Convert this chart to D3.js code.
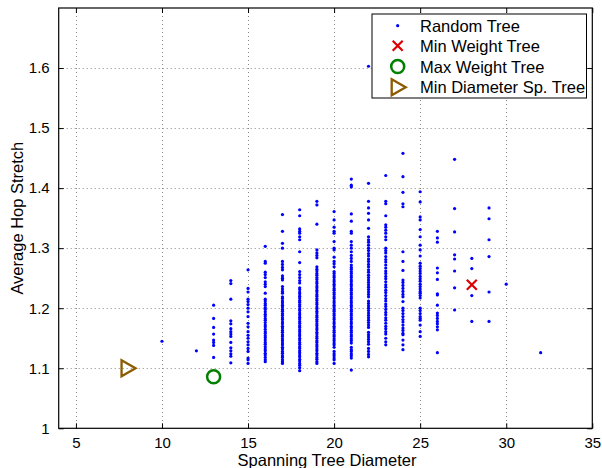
<!DOCTYPE html>
<html>
<head>
<meta charset="utf-8">
<script src="https://cdn.jsdelivr.net/npm/d3@7"></script>
<style>
body { margin: 0; background: #fff; }
text { font-family: "Liberation Sans", Arial, Helvetica, sans-serif; }
</style>
</head>
<body>
<svg id="chart" width="602" height="468"></svg>
<script>
// diameters of the random trees, and the hop stretch of each tree per diameter
var randomDiam = [10, 12, 13, 14, 15, 16, 17, 18, 19, 20, 21, 22, 23, 24, 25, 26, 27, 28, 29, 30, 32];
var randomStretch = [
  [1.145],
  [1.129],
  [1.205, 1.183, 1.168, 1.157, 1.147, 1.143, 1.138, 1.118],
  [1.246, 1.241, 1.215, 1.179, 1.174, 1.166, 1.161, 1.157, 1.153, 1.143, 1.134, 1.129, 1.124, 1.120, 1.109],
  [1.264, 1.233, 1.227, 1.215, 1.211, 1.206, 1.200, 1.194, 1.186, 1.175, 1.169, 1.161, 1.155, 1.150, 1.144, 1.139, 1.133, 1.128, 1.117, 1.114, 1.108],
  [1.303, 1.278, 1.275, 1.260, 1.256, 1.251, 1.244, 1.240, 1.236, 1.225, 1.215, 1.212, 1.208, 1.205, 1.201, 1.198, 1.194, 1.190, 1.187, 1.183,
   1.180, 1.176, 1.172, 1.169, 1.165, 1.161, 1.158, 1.154, 1.151, 1.147, 1.143, 1.140, 1.136, 1.132, 1.129, 1.125, 1.122, 1.118, 1.114, 1.111],
  [1.356, 1.328, 1.308, 1.300, 1.278, 1.273, 1.268, 1.264, 1.254, 1.250, 1.247, 1.236, 1.232, 1.228, 1.225, 1.219, 1.216, 1.212, 1.209, 1.205,
   1.202, 1.198, 1.195, 1.191, 1.188, 1.184, 1.181, 1.177, 1.174, 1.170, 1.167, 1.163, 1.160, 1.156, 1.153, 1.149, 1.146, 1.142, 1.139, 1.135,
   1.132, 1.128, 1.125, 1.121, 1.118, 1.114, 1.111, 1.108],
  [1.364, 1.354, 1.332, 1.328, 1.325, 1.319, 1.314, 1.294, 1.276, 1.261, 1.256, 1.251, 1.246, 1.242, 1.234, 1.231, 1.227, 1.224, 1.220, 1.217,
   1.213, 1.210, 1.206, 1.203, 1.199, 1.196, 1.192, 1.189, 1.185, 1.182, 1.178, 1.175, 1.171, 1.168, 1.164, 1.161, 1.157, 1.154, 1.150, 1.147,
   1.143, 1.140, 1.136, 1.133, 1.129, 1.126, 1.122, 1.119, 1.115, 1.112, 1.108, 1.105, 1.101, 1.096],
  [1.378, 1.372, 1.340, 1.297, 1.292, 1.288, 1.284, 1.269, 1.265, 1.262, 1.258, 1.255, 1.251, 1.248, 1.244, 1.241, 1.237, 1.234, 1.230, 1.227,
   1.223, 1.220, 1.216, 1.213, 1.209, 1.206, 1.202, 1.199, 1.195, 1.192, 1.188, 1.185, 1.181, 1.178, 1.174, 1.171, 1.167, 1.164, 1.160, 1.157,
   1.153, 1.150, 1.146, 1.143, 1.139, 1.136, 1.132, 1.129, 1.125, 1.122, 1.118, 1.115, 1.111, 1.108],
  [1.361, 1.347, 1.335, 1.328, 1.325, 1.311, 1.300, 1.297, 1.285, 1.278, 1.274, 1.269, 1.261, 1.258, 1.254, 1.251, 1.247, 1.244, 1.240, 1.237,
   1.233, 1.230, 1.226, 1.223, 1.219, 1.216, 1.212, 1.209, 1.205, 1.202, 1.198, 1.195, 1.191, 1.188, 1.184, 1.181, 1.177, 1.174, 1.170, 1.167,
   1.163, 1.160, 1.156, 1.153, 1.149, 1.146, 1.142, 1.139, 1.135, 1.128, 1.124, 1.121, 1.117, 1.114, 1.108],
  [1.415, 1.405, 1.402, 1.357, 1.345, 1.328, 1.325, 1.311, 1.305, 1.300, 1.294, 1.288, 1.283, 1.278, 1.272, 1.268, 1.265, 1.261, 1.258, 1.254,
   1.251, 1.247, 1.244, 1.240, 1.237, 1.233, 1.230, 1.226, 1.223, 1.219, 1.216, 1.212, 1.209, 1.205, 1.202, 1.198, 1.195, 1.191, 1.188, 1.184,
   1.181, 1.177, 1.174, 1.170, 1.167, 1.163, 1.160, 1.156, 1.153, 1.149, 1.146, 1.142, 1.135, 1.131, 1.128, 1.124, 1.121, 1.117, 1.097],
  [1.603, 1.408, 1.378, 1.367, 1.358, 1.347, 1.333, 1.319, 1.314, 1.310, 1.305, 1.300, 1.296, 1.291, 1.287, 1.282, 1.278, 1.273, 1.269, 1.264,
   1.260, 1.255, 1.251, 1.247, 1.243, 1.239, 1.235, 1.231, 1.227, 1.223, 1.219, 1.212, 1.208, 1.204, 1.200, 1.196, 1.192, 1.188, 1.184, 1.180,
   1.176, 1.172, 1.168, 1.160, 1.156, 1.152, 1.148, 1.144, 1.140, 1.133, 1.128, 1.123, 1.119],
  [1.421, 1.378, 1.374, 1.354, 1.339, 1.335, 1.330, 1.325, 1.319, 1.314, 1.300, 1.296, 1.292, 1.286, 1.281, 1.277, 1.272, 1.267, 1.262, 1.258,
   1.253, 1.249, 1.244, 1.239, 1.235, 1.230, 1.226, 1.221, 1.216, 1.212, 1.207, 1.203, 1.198, 1.193, 1.189, 1.184, 1.180, 1.175, 1.170, 1.166,
   1.161, 1.157, 1.150, 1.144, 1.139],
  [1.458, 1.419, 1.393, 1.374, 1.369, 1.294, 1.278, 1.263, 1.247, 1.243, 1.238, 1.233, 1.228, 1.223, 1.219, 1.211, 1.200, 1.196, 1.191, 1.186,
   1.181, 1.177, 1.172, 1.167, 1.163, 1.158, 1.156, 1.147, 1.139, 1.131],
  [1.394, 1.377, 1.352, 1.347, 1.331, 1.319, 1.305, 1.297, 1.287, 1.275, 1.270, 1.266, 1.262, 1.258, 1.253, 1.249, 1.245, 1.240, 1.236, 1.232,
   1.228, 1.225, 1.221, 1.217, 1.200, 1.196, 1.191, 1.186, 1.183, 1.180, 1.172, 1.161, 1.153],
  [1.328, 1.317, 1.310, 1.267, 1.259, 1.248, 1.224, 1.222, 1.205, 1.192, 1.188, 1.183, 1.178, 1.174, 1.169, 1.164, 1.126],
  [1.448, 1.366, 1.327, 1.289, 1.282, 1.262, 1.234, 1.197],
  [1.283, 1.266, 1.221, 1.178],
  [1.367, 1.349, 1.314, 1.286, 1.227, 1.178],
  [1.240],
  [1.126]
];
var minWeight = [28, 1.239];
var maxWeight = [13, 1.086];
var minDiameter = [8, 1.100];
var xTicks = [5, 10, 15, 20, 25, 30, 35];
var yTicks = [1, 1.1, 1.2, 1.3, 1.4, 1.5, 1.6];
var legendLabels = ["Random Tree", "Min Weight Tree", "Max Weight Tree", "Min Diameter Sp. Tree"];

var svg = d3.select("#chart");
var plotL = 58.7, plotR = 592.3, plotT = 8, plotB = 428.3;

var x = d3.scaleLinear().domain([4, 35]).range([plotL, plotR]);
var y = d3.scaleLinear().domain([1, 1.7]).range([plotB, plotT]);

// grid
var grid = svg.append("g").attr("stroke", "#888").attr("stroke-width", 1).attr("stroke-dasharray", "1,3");
grid.selectAll("line.gx").data(xTicks.filter(function (d) { return d < 35; })).enter().append("line")
  .attr("x1", function (d) { return Math.round(x(d)) + 0.5; }).attr("x2", function (d) { return Math.round(x(d)) + 0.5; })
  .attr("y1", plotT).attr("y2", plotB);
grid.selectAll("line.gy").data(yTicks.filter(function (d) { return d > 1; })).enter().append("line")
  .attr("y1", function (d) { return Math.round(y(d)) + 0.5; }).attr("y2", function (d) { return Math.round(y(d)) + 0.5; })
  .attr("x1", plotL).attr("x2", plotR);

// random trees
var pts = [];
randomDiam.forEach(function (d, i) {
  randomStretch[i].forEach(function (v) { pts.push([d, v]); });
});
svg.append("g").selectAll("circle").data(pts).enter().append("circle")
  .attr("cx", function (d) { return x(d[0]); })
  .attr("cy", function (d) { return y(d[1]); })
  .attr("r", 1.6)
  .attr("fill", "#0000ff");

// special trees
function cross(g, cx, cy, s) {
  g.append("path").attr("d", "M" + (cx - s) + "," + (cy - s) + "L" + (cx + s) + "," + (cy + s) +
    "M" + (cx - s) + "," + (cy + s) + "L" + (cx + s) + "," + (cy - s))
    .attr("stroke", "#dd0000").attr("stroke-width", 2.2).attr("fill", "none");
}
function ring(g, cx, cy, r) {
  g.append("circle").attr("cx", cx).attr("cy", cy).attr("r", r)
    .attr("stroke", "#008000").attr("stroke-width", 2.5).attr("fill", "none");
}
function tri(g, cx, cy, s) {
  g.append("path").attr("d", "M" + (cx - s * 0.75) + "," + (cy - s) + "L" + (cx + s) + "," + cy +
    "L" + (cx - s * 0.75) + "," + (cy + s) + "Z")
    .attr("stroke", "#8c5a00").attr("stroke-width", 2.3).attr("fill", "none");
}
var marks = svg.append("g");
cross(marks, x(minWeight[0]), y(minWeight[1]), 5);
ring(marks, x(maxWeight[0]), y(maxWeight[1]), 6.5);
tri(marks, x(minDiameter[0]), y(minDiameter[1]), 8);

// axes (inward ticks on all four sides)
svg.append("g").attr("transform", "translate(0," + plotB + ")")
  .call(d3.axisBottom(x).tickValues(xTicks).tickSizeInner(-5).tickSizeOuter(0).tickPadding(9).tickFormat(d3.format("d")));
svg.append("g").attr("transform", "translate(0," + plotT + ")")
  .call(d3.axisTop(x).tickValues(xTicks).tickSizeInner(-5).tickSizeOuter(0).tickFormat(""));
svg.append("g").attr("transform", "translate(" + plotL + ",0)")
  .call(d3.axisLeft(y).tickValues(yTicks).tickSizeInner(-5).tickSizeOuter(0).tickPadding(9).tickFormat(function (d) { return String(+d.toFixed(1)); }));
svg.append("g").attr("transform", "translate(" + plotR + ",0)")
  .call(d3.axisRight(y).tickValues(yTicks).tickSizeInner(-5).tickSizeOuter(0).tickFormat(""));
svg.selectAll(".domain").remove();
svg.selectAll(".tick text").attr("font-size", 15).attr("fill", "#000")
  .attr("font-family", "'Liberation Sans', Arial, sans-serif");
svg.selectAll(".tick line").attr("stroke", "#000");

svg.append("rect").attr("x", plotL).attr("y", plotT).attr("width", plotR - plotL).attr("height", plotB - plotT)
  .attr("fill", "none").attr("stroke", "#000").attr("stroke-width", 1.2);

// axis labels
svg.append("text").attr("x", 327).attr("y", 466).attr("text-anchor", "middle")
  .attr("font-size", 16.5).text("Spanning Tree Diameter");
svg.append("text").attr("transform", "translate(23," + ((plotT + plotB) / 2) + ") rotate(-90)")
  .attr("text-anchor", "middle").attr("font-size", 16.5).text("Average Hop Stretch");

// legend
var lg = svg.append("g");
lg.append("rect").attr("x", 372).attr("y", 14).attr("width", 214.5).attr("height", 84)
  .attr("fill", "#fff").attr("stroke", "#000").attr("stroke-width", 1);
var rowY = [25.7, 45.7, 66.5, 87.3];
lg.append("circle").attr("cx", 397.7).attr("cy", rowY[0]).attr("r", 1.6).attr("fill", "#0000ff");
cross(lg, 397.7, rowY[1], 5);
ring(lg, 397.7, rowY[2], 6.5);
tri(lg, 397.7, rowY[3], 8);
lg.selectAll("text").data(legendLabels).enter().append("text")
  .attr("x", 420).attr("y", function (d, i) { return rowY[i] + 6; })
  .attr("font-size", 16.5).text(function (d) { return d; });
</script>
</body>
</html>
